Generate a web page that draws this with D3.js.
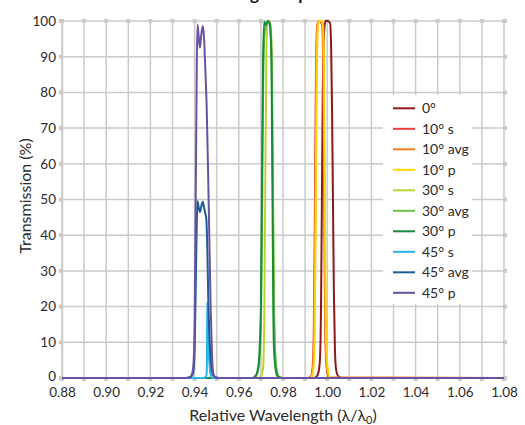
<!DOCTYPE html>
<html>
<head>
<meta charset="utf-8">
<script src="https://cdn.jsdelivr.net/npm/d3@7"></script>
<style>
  html, body { margin: 0; padding: 0; background: #fff; }
  svg { display: block; font-family: Lato, "Open Sans", sans-serif; }
</style>
</head>
<body>
<svg id="chart" width="525" height="425"></svg>
<script>
// ---------- DATA ----------
const seriesNames = ["0°", "10° s", "10° avg", "10° p", "30° s", "30° avg", "30° p", "45° s", "45° avg", "45° p"];
const seriesColors = ["#8b1a1a", "#ee3b3b", "#f47b20", "#ffd400", "#b8d433", "#6cbf4a", "#178a3c", "#2ab4e6", "#1d5b95", "#6a52a3"];

const xTicks = [0.88, 0.90, 0.92, 0.94, 0.96, 0.98, 1.00, 1.02, 1.04, 1.06, 1.08];
const yTicks = [0, 10, 20, 30, 40, 50, 60, 70, 80, 90, 100];

// [relative wavelength, transmission %]
const deg0 = [[0.88,0],[0.994,0],[0.995,0.3],[0.996,1.5],[0.9967,5],[0.9972,20],[0.9976,50],[0.998,80],[0.9986,97],[0.9992,100],[1.000,100],[1.0013,99.5],[1.0018,92],[1.0022,75],[1.0026,50],[1.003,25],[1.0035,8],[1.004,2.5],[1.005,0.5],[1.007,0],[1.08,0]];
const deg10s = [[0.88,0],[0.991,0],[0.9925,0.3],[0.9934,3],[0.9939,12],[0.9944,45],[0.9949,85],[0.9955,99],[0.9965,100],[0.9977,99],[0.9982,88],[0.9986,55],[0.999,20],[0.9995,5],[1.0002,1],[1.001,0],[1.08,0]];
const deg10avg = [[0.88,0],[0.9915,0],[0.9928,0.4],[0.9936,3],[0.9941,12],[0.9946,45],[0.9951,85],[0.9957,99],[0.9966,100],[0.9978,99.5],[0.9983,88],[0.9987,55],[0.9991,20],[0.9996,5.5],[1.0003,1.2],[1.001,0.2],[1.08,0]];
const deg10p = [[0.88,0],[0.992,0],[0.993,0.5],[0.9938,3],[0.9943,12],[0.9948,45],[0.9953,85],[0.9958,99],[0.9965,100],[0.9975,100],[0.9981,99],[0.9985,88],[0.9989,55],[0.9993,20],[0.9998,6],[1.0005,1.5],[1.001,0.3],[1.003,0],[1.08,0]];
const deg30s = [[0.88,0],[0.969,0],[0.970,0.5],[0.971,3],[0.9715,15],[0.972,55],[0.9725,92],[0.973,99.5],[0.9738,100],[0.9745,98],[0.975,85],[0.9755,50],[0.976,18],[0.9765,5],[0.977,1],[0.978,0],[1.08,0]];
const deg30avg = [[0.88,0],[0.967,0],[0.968,0.8],[0.969,3],[0.970,14],[0.9705,45],[0.971,80],[0.9715,95],[0.972,98],[0.973,99.6],[0.9738,99.8],[0.9745,97],[0.975,82],[0.9755,48],[0.976,16],[0.977,3],[0.978,0.5],[0.980,0],[1.08,0]];
const deg30p = [[0.88,0],[0.966,0],[0.967,0.3],[0.968,1],[0.969,4],[0.970,20],[0.9705,55],[0.971,90],[0.9715,99.8],[0.9722,98.9],[0.9731,100],[0.9738,99.6],[0.9744,96],[0.9748,88],[0.9752,55],[0.9756,20],[0.976,7],[0.977,1.5],[0.978,0.3],[0.980,0],[1.08,0]];
const deg45s = [[0.88,0],[0.944,0],[0.945,0.3],[0.9454,1],[0.9456,5],[0.9457,21.2],[0.946,16],[0.9463,10],[0.9466,5],[0.947,2],[0.9475,0.5],[0.948,0],[1.08,0]];
const deg45avg = [[0.88,0],[0.936,0],[0.938,0.2],[0.939,0.8],[0.9395,2],[0.940,7.5],[0.9405,25],[0.941,44],[0.9413,49.5],[0.9418,48],[0.9424,46.5],[0.943,48],[0.9437,49.4],[0.9442,48],[0.9447,46.5],[0.9453,44.5],[0.9458,35],[0.9462,22],[0.9467,12],[0.9473,5],[0.948,1.5],[0.949,0.3],[0.951,0],[1.08,0]];
const deg45p = [[0.88,0],[0.936,0],[0.938,0.3],[0.939,1.5],[0.9395,4],[0.940,15],[0.9405,50],[0.941,88],[0.9413,99],[0.9418,96],[0.9424,92.5],[0.943,96],[0.9437,98.6],[0.9442,96],[0.9447,89],[0.9455,75],[0.9462,55],[0.9467,38],[0.9473,19],[0.9478,8],[0.9483,2],[0.949,0.5],[0.951,0],[1.08,0]];

const seriesData = [deg0, deg10s, deg10avg, deg10p, deg30s, deg30avg, deg30p, deg45s, deg45avg, deg45p];

// ---------- CHART ----------
const svg = d3.select("#chart");
const x = d3.scaleLinear().domain([0.88, 1.08]).range([62, 504]);
const y = d3.scaleLinear().domain([0, 100]).range([378, 21]);
const gridColor = "#cacaca";
const textColor = "#2b2b2b";

// Title (mostly above the visible area, as in the reference)
const title = svg.append("text")
  .attr("x", 0).attr("y", -0.5)
  .attr("font-size", 17).attr("font-weight", "bold").attr("fill", "#111")
  .text("Angle Dependence");
const gPos = title.node().getStartPositionOfChar(2).x;
title.attr("x", 250 - gPos);

// Grid
const minorX = d3.range(0, 21).map(i => 0.88 + i * 0.01);
const grid = svg.append("g");
grid.selectAll("line.v").data(minorX).join("line")
  .attr("x1", d => x(d)).attr("x2", d => x(d))
  .attr("y1", y(100)).attr("y2", y(0))
  .attr("stroke", gridColor).attr("stroke-width", 1.5);
grid.selectAll("line.h").data(yTicks).join("line")
  .attr("x1", x(0.88)).attr("x2", x(1.08))
  .attr("y1", d => y(d)).attr("y2", d => y(d))
  .attr("stroke", gridColor).attr("stroke-width", 1.5);
// square end markers
grid.selectAll("rect.vt").data(minorX).join("rect")
  .attr("x", d => x(d) - 2).attr("y", y(100) - 2).attr("width", 4).attr("height", 4)
  .attr("fill", gridColor);
grid.selectAll("rect.vb").data(minorX).join("rect")
  .attr("x", d => x(d) - 2).attr("y", y(0) - 1).attr("width", 4).attr("height", 4)
  .attr("fill", gridColor);
grid.selectAll("rect.hl").data(yTicks).join("rect")
  .attr("x", x(0.88) - 3).attr("y", d => y(d) - 2).attr("width", 4).attr("height", 4)
  .attr("fill", gridColor);
grid.selectAll("rect.hr").data(yTicks).join("rect")
  .attr("x", x(1.08) - 1).attr("y", d => y(d) - 2).attr("width", 4).attr("height", 4)
  .attr("fill", gridColor);

// Axes
const yAxis = d3.axisLeft(y).tickValues(yTicks).tickSize(0).tickPadding(6);
const yg = svg.append("g").attr("transform", `translate(${x(0.88)},0)`).call(yAxis);
yg.select(".domain").attr("stroke", gridColor).attr("stroke-width", 1.5);
yg.selectAll("text").attr("font-size", 13.5).attr("fill", textColor).attr("font-family", "Lato, sans-serif");
yg.selectAll(".tick").filter(d => d === 0).select("text").attr("dy", "0.2em");

const xAxis = d3.axisBottom(x).tickValues(xTicks).tickFormat(d3.format(".2f")).tickSize(0).tickPadding(9);
const xg = svg.append("g").attr("transform", `translate(0,${y(0)})`).call(xAxis);
xg.select(".domain").remove();
xg.selectAll("text").attr("font-size", 13.5).attr("fill", textColor).attr("font-family", "Lato, sans-serif");

// Axis titles
const xt = svg.append("text")
  .attr("x", 283).attr("y", 421).attr("text-anchor", "middle")
  .attr("font-size", 16).attr("fill", textColor);
xt.append("tspan").text("Relative Wavelength (λ/λ");
xt.append("tspan").attr("font-size", 11).attr("dy", 3).text("0");
xt.append("tspan").attr("dy", -3).text(")");

svg.append("text")
  .attr("transform", "translate(31,196) rotate(-90)")
  .attr("text-anchor", "middle").attr("font-size", 16).attr("fill", textColor)
  .text("Transmission (%)");

// Lines
const line = d3.line().x(d => x(d[0])).y(d => y(d[1])).curve(d3.curveMonotoneX);
svg.append("g").selectAll("path").data(seriesData).join("path")
  .attr("d", line)
  .attr("fill", "none")
  .attr("stroke", (d, i) => seriesColors[i])
  .attr("stroke-width", 2)
  .attr("stroke-linejoin", "round");

// Legend
const lg = svg.append("g");
lg.append("rect").attr("x", 383).attr("y", 95).attr("width", 89).attr("height", 209).attr("fill", "#fff");
const rows = lg.selectAll("g.row").data(seriesNames).join("g")
  .attr("transform", (d, i) => `translate(0,${108.3 + i * 20.5})`);
rows.append("line").attr("x1", 393).attr("x2", 415).attr("y1", 0).attr("y2", 0)
  .attr("stroke", (d, i) => seriesColors[i]).attr("stroke-width", 2);
rows.append("text").attr("x", 422).attr("y", 0).attr("dy", "0.35em")
  .attr("font-size", 14).attr("fill", textColor).text(d => d);
</script>
</body>
</html>
